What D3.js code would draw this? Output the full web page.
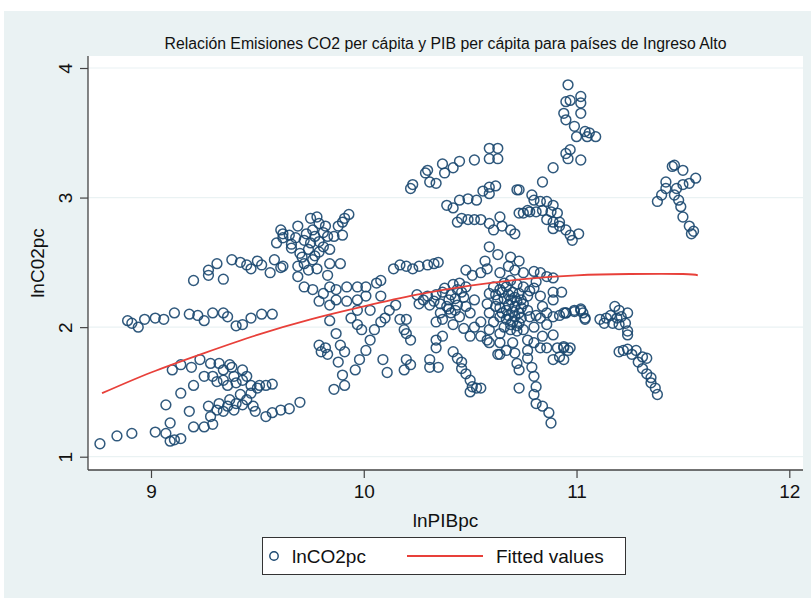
<!DOCTYPE html>
<html>
<head>
<meta charset="utf-8">
<script src="https://cdn.jsdelivr.net/npm/d3@7"></script>
<style>
body { margin: 0; background: #fff; }
text { font-family: "Liberation Sans", Arial, Helvetica, sans-serif; fill: #111; }
</style>
</head>
<body>
<div id="chart"></div>
<script>
var title = "Relación Emisiones CO2 per cápita y PIB per cápita para países de Ingreso Alto";
var xTicks = [9, 10, 11, 12];
var yTicks = [1, 2, 3, 4];

// fitted values (quadratic fit)
var fitX = [8.77, 9.0, 9.25, 9.5, 9.75, 10.0, 10.25, 10.5, 10.75, 11.0, 11.25, 11.5, 11.57];
var fitY = [1.49, 1.65, 1.80, 1.94, 2.06, 2.16, 2.25, 2.32, 2.37, 2.40, 2.41, 2.41, 2.40];

// [lnPIBpc, lnCO2pc]
var obs = [
  // lower left
  [8.76,1.10],[8.84,1.16],[8.91,1.18],[9.02,1.19],[9.07,1.18],[9.09,1.12],[9.11,1.13],[9.14,1.14],[9.09,1.26],[9.07,1.40],
  [9.14,1.49],[9.20,1.55],[9.18,1.35],[9.20,1.23],[9.25,1.23],[9.29,1.25],[9.28,1.31],[9.27,1.39],[9.31,1.36],[9.32,1.41],
  [9.34,1.35],[9.36,1.39],[9.37,1.44],[9.39,1.36],[9.40,1.41],[9.42,1.48],[9.43,1.40],[9.45,1.44],[9.47,1.49],[9.48,1.39],
  [9.49,1.35],[9.54,1.31],[9.57,1.34],[9.61,1.36],[9.65,1.37],[9.70,1.42],
  [9.51,1.55],[9.54,1.55],[9.57,1.56],[9.50,1.53],[9.47,1.55],[9.43,1.59],[9.45,1.62],[9.40,1.57],[9.36,1.55],[9.34,1.59],
  [9.31,1.58],[9.29,1.62],[9.25,1.62],[9.34,1.67],[9.38,1.69],[9.39,1.62],[9.43,1.67],
  [9.10,1.67],[9.14,1.71],[9.19,1.69],[9.23,1.75],[9.28,1.72],[9.32,1.72],[9.37,1.71],
  // row near 2.05
  [8.89,2.05],[8.91,2.03],[8.94,2.00],[8.97,2.06],[9.02,2.07],[9.06,2.06],[9.11,2.11],[9.18,2.10],[9.22,2.09],[9.25,2.05],
  [9.29,2.11],[9.34,2.11],[9.36,2.08],[9.40,2.01],[9.43,2.02],[9.47,2.07],[9.52,2.10],[9.57,2.10],
  // row near 2.45
  [9.20,2.36],[9.27,2.40],[9.27,2.44],[9.31,2.49],[9.34,2.37],[9.38,2.52],[9.42,2.50],[9.45,2.48],[9.47,2.45],[9.50,2.51],
  [9.52,2.48],[9.56,2.42],[9.58,2.52],[9.61,2.46],[9.59,2.65],[9.61,2.75],[9.62,2.69],[9.66,2.64],
  // cluster 9.6 - 9.95
  [9.62,2.72],[9.65,2.71],[9.69,2.78],[9.68,2.69],[9.72,2.67],[9.66,2.61],[9.70,2.57],[9.75,2.84],[9.78,2.85],[9.79,2.80],
  [9.76,2.75],[9.82,2.78],[9.83,2.70],[9.79,2.66],[9.75,2.65],[9.79,2.58],[9.84,2.60],[9.76,2.52],[9.72,2.49],[9.69,2.47],
  [9.74,2.44],[9.78,2.45],[9.83,2.40],[9.69,2.39],[9.62,2.47],[9.89,2.49],[9.88,2.78],[9.90,2.81],[9.91,2.84],[9.93,2.87],
  [9.90,2.71],[9.86,2.70],[9.84,2.49],[9.73,2.72],[9.77,2.70],[9.81,2.73],[9.74,2.60],[9.81,2.62],[9.71,2.54],[9.77,2.55],
  [9.72,2.31],[9.76,2.29],[9.81,2.26],[9.84,2.31],[9.87,2.29],[9.92,2.31],[9.97,2.31],[10.01,2.31],[10.06,2.34],[10.08,2.36],
  [10.01,2.24],[9.97,2.21],[10.08,2.24],[9.92,2.20],[9.87,2.21],[9.84,2.17],[9.79,2.20],[9.97,2.13],[10.03,2.13],
  [10.14,2.45],[10.17,2.48],[10.20,2.47],[10.23,2.45],[10.26,2.47],[10.30,2.48],[10.33,2.49],[10.35,2.50],
  // upper rows 10.2 - 10.7
  [10.22,3.07],[10.23,3.10],[10.29,3.19],[10.30,3.21],[10.31,3.12],[10.34,3.11],[10.37,3.26],[10.38,3.19],[10.42,3.23],[10.45,3.28],
  [10.52,3.29],[10.59,3.38],[10.63,3.38],[10.59,3.30],[10.63,3.30],
  [10.39,2.94],[10.42,2.92],[10.45,2.98],[10.49,2.99],[10.53,2.98],[10.56,3.05],[10.59,3.08],[10.62,3.09],[10.59,3.03],[10.72,3.06],
  [10.44,2.81],[10.46,2.84],[10.49,2.83],[10.52,2.83],[10.55,2.83],[10.59,2.80],[10.64,2.85],[10.61,2.75],[10.65,2.78],[10.69,2.75],
  [10.71,2.72],[10.73,2.88],[10.77,2.90],[10.59,2.62],[10.63,2.56],[10.69,2.54],[10.73,2.51],
  // central mass
  [10.57,2.51],[10.58,2.45],[10.48,2.44],[10.51,2.40],[10.55,2.42],[10.64,2.42],[10.68,2.47],[10.71,2.44],[10.75,2.42],[10.80,2.43],
  [10.83,2.42],[10.86,2.39],[10.89,2.38],[10.89,2.27],[10.89,2.21],[10.81,2.35],[10.80,2.30],[10.83,2.24],[10.84,2.16],
  [10.42,2.33],[10.45,2.34],[10.46,2.27],[10.41,2.25],[10.37,2.27],[10.34,2.25],[10.30,2.24],[10.25,2.25],[10.26,2.18],[10.31,2.17],
  [10.36,2.18],[10.39,2.16],[10.44,2.17],[10.48,2.16],[10.52,2.21],[10.50,2.11],[10.45,2.08],[10.41,2.11],[10.36,2.11],[10.37,2.06],
  [10.34,2.04],[10.42,2.02],[10.47,1.99],[10.52,2.00],[10.55,2.04],[10.50,1.93],[10.55,1.93],[10.58,1.90],[10.59,1.98],[10.61,2.04],
  [10.59,2.11],[10.58,2.18],[10.59,2.26],[10.61,2.31],[10.64,2.29],[10.67,2.31],[10.70,2.27],[10.73,2.26],[10.77,2.24],[10.75,2.18],
  [10.72,2.20],[10.69,2.21],[10.66,2.22],[10.63,2.21],[10.64,2.15],[10.67,2.13],[10.70,2.12],[10.73,2.11],[10.77,2.13],[10.64,2.08],
  [10.67,2.06],[10.70,2.04],[10.73,2.03],[10.66,2.00],[10.69,1.98],[10.72,1.97],[10.75,1.98],[10.64,1.95],[10.78,2.08],[10.81,2.09],
  [10.80,2.00],[10.83,2.07],[10.86,2.11],[10.89,2.08],[10.92,2.09],[10.95,2.11],[10.99,2.12],[11.02,2.13],[11.04,2.07],[10.86,2.02],
  [10.89,1.94],[10.84,1.93],[10.80,1.88],[10.77,1.90],[10.83,1.84],[10.86,1.84],[10.91,1.84],[10.94,1.85],[10.97,1.84],[10.92,1.77],
  [10.89,1.75],[10.77,1.82],[10.77,1.76],[10.79,1.69],[10.80,1.62],[10.81,1.54],[10.80,1.48],[10.81,1.41],[10.84,1.39],[10.87,1.34],
  [10.88,1.26],[10.73,1.53],[10.70,1.88],[10.71,1.80],[10.72,1.72],[10.73,1.67],[10.67,1.82],[10.64,1.79],[10.63,1.79],[10.59,1.88],
  [10.64,1.88],
  [10.62,2.25],[10.65,2.27],[10.68,2.25],[10.71,2.23],[10.74,2.21],[10.68,2.17],[10.71,2.16],[10.74,2.15],[10.65,2.11],[10.68,2.09],
  [10.71,2.08],[10.74,2.07],[10.69,2.02],[10.72,2.01],[10.62,2.16],[10.66,2.34],[10.69,2.36],[10.72,2.33],[10.75,2.31],[10.78,2.28],
  [10.40,2.21],[10.43,2.22],[10.47,2.23],[10.38,2.30],[10.44,2.29],[10.48,2.31],[10.33,2.20],[10.28,2.21],[10.40,2.14],[10.43,2.13],
  [10.34,1.90],[10.37,1.93],[10.34,1.84],[10.42,1.81],[10.44,1.76],[10.46,1.73],[10.46,1.68],[10.48,1.64],[10.50,1.59],[10.51,1.54],
  [10.50,1.50],[10.53,1.53],[10.55,1.53],[10.31,1.75],[10.31,1.69],[10.35,1.69],[10.20,1.75],[10.22,1.71],[10.19,1.67],[10.17,2.06],
  [10.20,2.06],[10.20,1.95],
  // 9.8 - 10.2 lower
  [9.84,2.05],[9.87,1.95],[9.89,1.86],[9.91,1.81],[9.88,1.73],[9.90,1.63],[9.91,1.55],[9.86,1.52],[9.96,1.67],[9.98,1.75],
  [10.01,1.82],[10.03,1.90],[10.05,1.98],[10.08,2.04],[10.10,2.07],[10.12,2.13],[10.15,2.17],[10.09,1.75],[10.11,1.65],
  [9.79,1.86],[9.82,1.84],[9.83,1.79],[9.80,1.81],[9.94,2.07],[9.97,2.02],[9.99,1.98],[10.19,1.98],[10.22,1.90],
  // right side
  [10.94,2.11],[10.95,2.11],[10.99,2.13],[11.02,2.14],[11.03,2.11],[11.04,2.06],[10.94,1.84],[10.96,1.82],[10.94,1.75],[10.93,2.27],
  [11.11,2.06],[11.13,2.03],[11.14,2.07],[11.16,2.09],[11.18,2.16],[11.20,2.13],[11.19,2.07],[11.21,2.08],[11.24,2.11],[11.23,2.03],
  [11.20,2.02],[11.24,1.97],[11.24,1.94],[11.17,2.03],
  [11.20,1.81],[11.22,1.82],[11.24,1.83],[11.26,1.79],[11.28,1.82],[11.29,1.73],[11.31,1.77],[11.33,1.76],[11.31,1.68],[11.33,1.64],
  [11.35,1.61],[11.35,1.57],[11.37,1.53],[11.38,1.48],
  // top right
  [10.96,3.87],[10.95,3.74],[10.97,3.75],[11.02,3.78],[11.02,3.73],[10.94,3.65],[10.95,3.60],[11.02,3.65],[10.99,3.55],[11.00,3.47],
  [11.04,3.51],[11.05,3.47],[11.06,3.50],[11.09,3.47],[10.95,3.34],[10.97,3.37],[10.96,3.30],[11.02,3.29],[10.89,3.23],[10.84,3.12],
  [10.79,3.02],[10.80,2.98],[10.83,2.97],[10.86,2.97],[10.89,2.94],[10.75,2.88],[10.78,2.89],[10.81,2.89],[10.84,2.90],[10.88,2.89],
  [10.91,2.88],[10.86,2.83],[10.89,2.81],[10.92,2.81],[10.89,2.76],[10.92,2.78],[10.95,2.75],[10.97,2.71],[11.01,2.72],[10.98,2.67],
  [10.73,3.06],
  // far right
  [11.45,3.24],[11.46,3.25],[11.50,3.21],[11.42,3.12],[11.42,3.07],[11.40,3.02],[11.38,2.97],[11.47,3.07],[11.50,3.10],[11.53,3.11],
  [11.56,3.15],[11.46,3.02],[11.48,2.98],[11.49,2.93],[11.50,2.85],[11.53,2.78],[11.54,2.72],[11.55,2.74]
];

var width = 811, height = 598;
var plotLeft = 88, plotRight = 803, plotTop = 56, plotBottom = 470;
var navy = "#1a476f", red = "#e8403a", bg = "#eaf2f3", axisCol = "#444";

var svg = d3.select("#chart").append("svg")
    .attr("width", width)
    .attr("height", height);

svg.append("rect")
    .attr("x", 4).attr("y", 11)
    .attr("width", width - 4).attr("height", height - 11)
    .attr("fill", bg);

var x = d3.scaleLinear().domain([9, 12]).range([151, 789.3]);
var y = d3.scaleLinear().domain([1, 4]).range([456.7, 68]);

// plot region
svg.append("rect")
    .attr("x", plotLeft).attr("y", plotTop)
    .attr("width", plotRight - plotLeft).attr("height", plotBottom - plotTop)
    .attr("fill", "#fff");

svg.append("g").selectAll("line").data(yTicks).enter().append("line")
    .attr("x1", plotLeft).attr("x2", plotRight)
    .attr("y1", function(d) { return y(d); })
    .attr("y2", function(d) { return y(d); })
    .attr("stroke", bg).attr("stroke-width", 1.2);

// title
svg.append("text")
    .attr("x", (plotLeft + plotRight) / 2).attr("y", 49)
    .attr("text-anchor", "middle")
    .style("font-size", "15.8px")
    .text(title);

// scatter
svg.append("g").selectAll("circle").data(obs).enter().append("circle")
    .attr("cx", function(d) { return x(d[0]); })
    .attr("cy", function(d) { return y(d[1]); })
    .attr("r", 4.9)
    .attr("fill", "none")
    .attr("stroke", navy)
    .attr("stroke-width", 1.5)
    .attr("stroke-opacity", 0.9);

// fitted line
var line = d3.line()
    .x(function(d, i) { return x(d); })
    .y(function(d, i) { return y(fitY[i]); })
    .curve(d3.curveNatural);

svg.append("path")
    .attr("d", line(fitX))
    .attr("fill", "none")
    .attr("stroke", red)
    .attr("stroke-width", 1.8);

// x axis
var gx = svg.append("g").attr("transform", "translate(0," + plotBottom + ")")
    .call(d3.axisBottom(x).tickValues(xTicks).tickSize(8).tickPadding(7).tickFormat(d3.format("d")));
gx.select(".domain").remove();
gx.selectAll(".tick line").attr("stroke", axisCol).attr("stroke-width", 1.2);
gx.selectAll(".tick text").style("font-size", "19px").attr("fill", "#111");
gx.append("line").attr("x1", plotLeft).attr("x2", plotRight).attr("y1", 0).attr("y2", 0)
    .attr("stroke", axisCol).attr("stroke-width", 1.3);

// y axis
var gy = svg.append("g").attr("transform", "translate(" + plotLeft + ",0)")
    .call(d3.axisLeft(y).tickValues(yTicks).tickSize(8).tickFormat(d3.format("d")));
gy.select(".domain").remove();
gy.selectAll(".tick line").attr("stroke", axisCol).attr("stroke-width", 1.2);
gy.selectAll(".tick text")
    .style("font-size", "19px")
    .attr("fill", "#111")
    .attr("x", 0).attr("dy", null)
    .attr("text-anchor", "middle")
    .attr("transform", "translate(-16,0) rotate(-90)");
gy.append("line").attr("x1", 0).attr("x2", 0).attr("y1", plotTop).attr("y2", plotBottom)
    .attr("stroke", axisCol).attr("stroke-width", 1.3);

// axis titles
svg.append("text")
    .attr("x", (plotLeft + plotRight) / 2).attr("y", 527)
    .attr("text-anchor", "middle")
    .style("font-size", "19px")
    .text("lnPIBpc");

svg.append("text")
    .attr("transform", "translate(44," + ((plotTop + plotBottom) / 2) + ") rotate(-90)")
    .attr("text-anchor", "middle")
    .style("font-size", "19px")
    .text("lnC02pc");

// legend
var lg = svg.append("g");
lg.append("rect")
    .attr("x", 262.5).attr("y", 537.5)
    .attr("width", 363).attr("height", 37)
    .attr("fill", "#fff").attr("stroke", "#333").attr("stroke-width", 1);
lg.append("circle")
    .attr("cx", 274).attr("cy", 556).attr("r", 4.2)
    .attr("fill", "none").attr("stroke", navy).attr("stroke-width", 1.4);
lg.append("text").attr("x", 292).attr("y", 563).style("font-size", "19px").text("lnCO2pc");
lg.append("line")
    .attr("x1", 407).attr("x2", 483).attr("y1", 556).attr("y2", 556)
    .attr("stroke", red).attr("stroke-width", 1.8);
lg.append("text").attr("x", 496).attr("y", 563).style("font-size", "19px").text("Fitted values");
</script>
</body>
</html>
